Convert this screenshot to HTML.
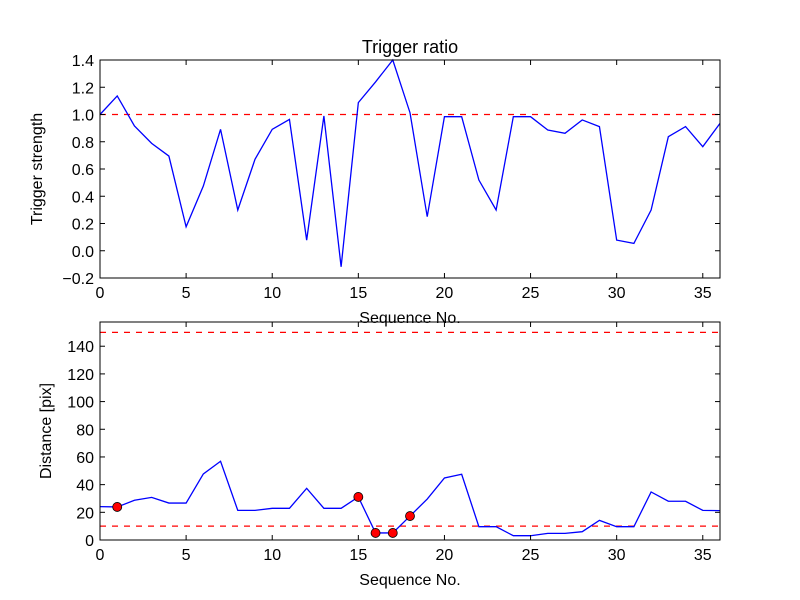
<!DOCTYPE html>
<html><head><meta charset="utf-8"><style>body{margin:0;background:#fff}svg{display:block;font-family:"Liberation Sans",sans-serif}</style></head>
<body>
<svg id="c" width="800" height="600"></svg>
<script>
const xs = [0,1,2,3,4,5,6,7,8,9,10,11,12,13,14,15,16,17,18,19,20,21,22,23,24,25,26,27,28,29,30,31,32,33,34,35,36];
const ratio = [1.0,1.136,0.916,0.788,0.695,0.176,0.475,0.891,0.299,0.671,0.891,0.964,0.078,0.989,-0.118,1.087,1.239,1.4,1.013,0.25,0.984,0.984,0.519,0.299,0.984,0.984,0.886,0.862,0.96,0.911,0.078,0.054,0.299,0.837,0.911,0.764,0.935];
const dist = [24.1,23.9,28.7,30.8,26.7,26.7,47.7,56.9,21.4,21.4,22.9,22.9,37.3,22.9,22.9,31.1,5.1,5.1,17.3,29.6,44.8,47.5,9.6,9.6,3.1,3.1,4.8,4.8,6,14.2,9.6,9.6,34.7,28,28,21.4,21.2];
const markIdx = [1,15,16,17,18];
const xTicks = [0,5,10,15,20,25,30,35];
const yTicksTop = [-0.2,0,0.2,0.4,0.6,0.8,1.0,1.2,1.4];
const yTicksBot = [0,20,40,60,80,100,120,140];
const NS='http://www.w3.org/2000/svg', svg=document.getElementById('c');
function el(t,a,txt){const e=document.createElementNS(NS,t);for(const k in a)e.setAttribute(k,a[k]);if(txt!==undefined)e.textContent=txt;svg.appendChild(e);return e;}
const L=100,R=720;
const X=v=>L+(v-0)/(36-0)*(R-L);
function panel(top,bot,ymin,ymax,ticks,fmt,vals,hlines,ylabel,pfx){
  const Y=v=>bot-(v-ymin)/(ymax-ymin)*(bot-top);
  hlines.forEach(h=>{const e=el('line',{x1:L,x2:R,y1:Y(h),y2:Y(h),stroke:'#f00','stroke-width':1.3,'stroke-dasharray':'6,6'});
    });
  const p=el('polyline',{points:vals.map((v,i)=>X(xs[i])+','+Y(v)).join(' '),fill:'none',stroke:'#00f','stroke-width':1.3});
  
  const f=el('rect',{x:L,y:top,width:R-L,height:bot-top,fill:'none',stroke:'#000','stroke-width':1});
  
  xTicks.forEach(t=>{const x=X(t);el('line',{x1:x,x2:x,y1:bot,y2:bot-5,stroke:'#000'});el('line',{x1:x,x2:x,y1:top,y2:top+5,stroke:'#000'});
    const tx=el('text',{x:x,y:bot+20,'font-size':16,'text-anchor':'middle'},t);});
  ticks.forEach(t=>{const y=Y(t);el('line',{x1:L,x2:L+5,y1:y,y2:y,stroke:'#000'});el('line',{x1:R,x2:R-5,y1:y,y2:y,stroke:'#000'});
    const tx=el('text',{x:L-6,y:y+6,'font-size':16,'text-anchor':'end'},fmt(t));});
  const xl=el('text',{x:(L+R)/2,y:bot+45,'font-size':16,'text-anchor':'middle'},'Sequence No.');
  
  const yl=el('text',{x:0,y:0,'font-size':16,'text-anchor':'middle',transform:`translate(${pfx==='top'?42:51},${(top+bot)/2}) rotate(-90)`},ylabel);
  
  return Y;
}
panel(60,278,-0.2,1.4,yTicksTop,t=>t.toFixed(1).replace('-','\u2212'),ratio,[1.0],'Trigger strength','top');
const Yb=panel(322,540,0,157.5,yTicksBot,t=>String(t),dist,[10,150],'Distance [pix]','bottom');
markIdx.forEach(i=>{const c=el('circle',{cx:X(xs[i]),cy:Yb(dist[i]),r:4.5,fill:'#f00',stroke:'#000','stroke-width':0.8});
  });
const t=el('text',{x:410,y:53,'font-size':18,'text-anchor':'middle'},'Trigger ratio');

</script>
</body></html>
